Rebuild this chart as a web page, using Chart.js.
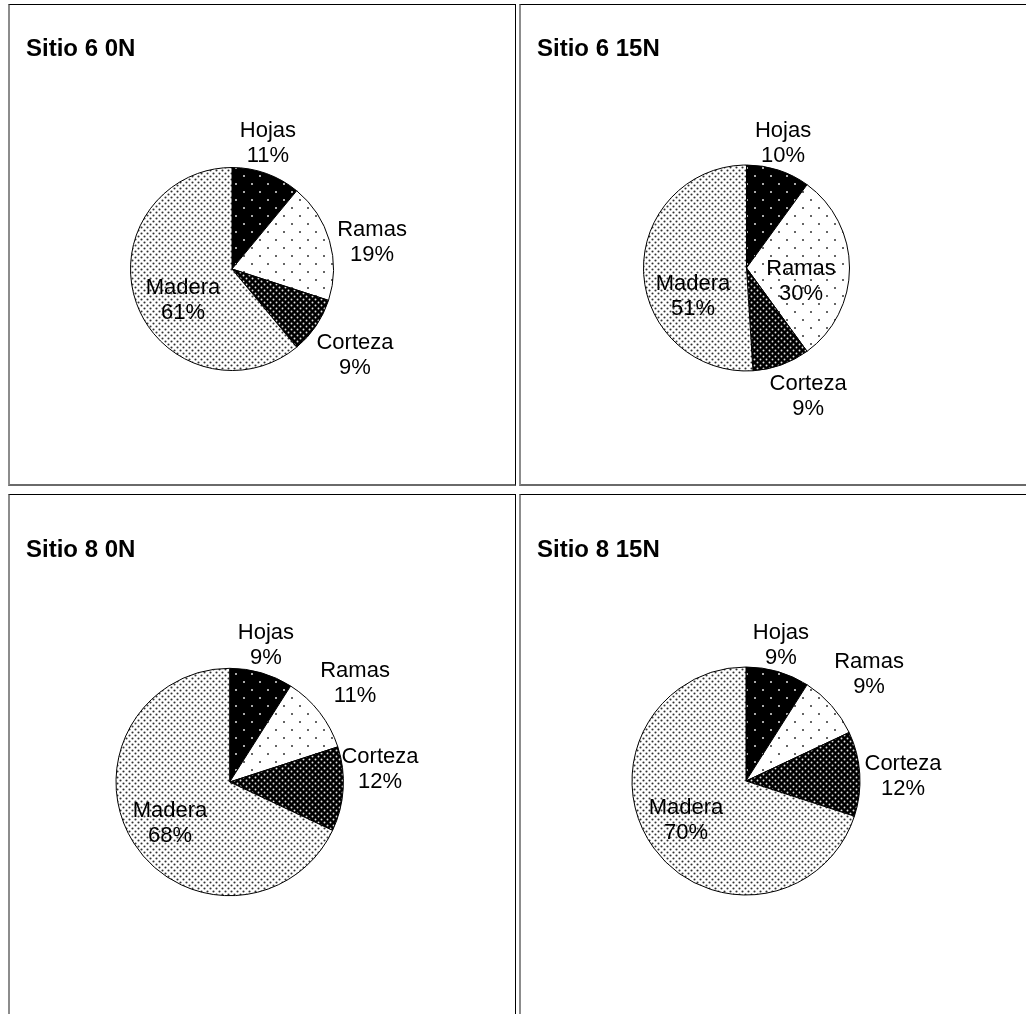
<!DOCTYPE html>
<html>
<head>
<meta charset="utf-8">
<title>Sitio 6 / Sitio 8</title>
<script src="https://cdn.jsdelivr.net/npm/chart.js@4/dist/chart.umd.min.js"></script>
<style>
  html, body { margin: 0; padding: 0; background: #fff; }
  body { width: 1026px; height: 1014px; overflow: hidden; position: relative;
         font-family: "Liberation Sans", Arial, sans-serif; }
  .panel { position: absolute; box-sizing: border-box;
           border-top: 1px solid #000; border-right: 1px solid #000;
           border-left: 2px solid #8c8c8c; border-bottom: 2px solid #6a6a6a; }
  canvas { position: absolute; }
</style>
</head>
<body>
<script>
// Biomass share by component (%)
const categories  = ['Hojas', 'Ramas', 'Corteza', 'Madera'];
const sitio6_0N   = [11, 19, 9, 61];
const sitio6_15N  = [10, 30, 9, 51];
const sitio8_0N   = [9, 11, 12, 68];
const sitio8_15N  = [9, 9, 12, 70];
const panelTitles = ['Sitio 6 0N', 'Sitio 6 15N', 'Sitio 8 0N', 'Sitio 8 15N'];
const panelSeries = [sitio6_0N, sitio6_15N, sitio8_0N, sitio8_15N];

// Page layout: frames, pie centre/radius, title baseline, label placement
// (label placement = [radius factor, angle shift in degrees] per slice)
const layout = [
  { box: { x: 8,   y: 4,   w: 508, h: 482 }, pie: { cx: 232,   cy: 269, r: 101.5 }, title: { x: 26,  y: 56 },
    labels: [[1.291, -3.9], [1.405, 5.3], [1.479, 0.8], [0.571, -12.5]] },
  { box: { x: 519, y: 4,   w: 515, h: 482 }, pie: { cx: 746.5, cy: 268, r: 103 },   title: { x: 537, y: 56 },
    labels: [[1.264, -1.7], [0.544, 13.4], [1.379, -5.9], [0.586, -25.8]] },
  { box: { x: 8,   y: 494, w: 508, h: 530 }, pie: { cx: 229.7, cy: 782, r: 113.7 }, title: { x: 26,  y: 557 },
    labels: [[1.246, -1.4], [1.405, -0.5], [1.326, -8.2], [0.637, -2.1]] },
  { box: { x: 519, y: 494, w: 515, h: 530 }, pie: { cx: 746,   cy: 781, r: 114 },   title: { x: 537, y: 557 },
    labels: [[1.232, -1.8], [1.430, 0.4], [1.378, 1.8], [0.628, 3.0]] }
];

// Dotted fills for the four components
function dotPattern(size, bg, dot, radius, pts) {
  const c = document.createElement('canvas');
  c.width = size; c.height = size;
  const g = c.getContext('2d');
  g.fillStyle = bg; g.fillRect(0, 0, size, size);
  g.fillStyle = dot;
  pts.forEach(([x, y]) => { g.beginPath(); g.arc(x, y, radius, 0, Math.PI * 2); g.fill(); });
  return g.createPattern(c, 'repeat');
}
const fills = [
  dotPattern(16, '#000', '#e2e2e2', 1.0, [[4, 4], [12, 12]]),        // Hojas
  dotPattern(16, '#fff', '#333333', 1.0, [[4, 4], [12, 12]]),        // Ramas
  dotPattern(6,  '#000', '#e6e6e6', 0.95, [[1.5, 1.5], [4.5, 4.5]]), // Corteza
  dotPattern(6,  '#fff', '#303030', 1.05, [[1.5, 1.5], [4.5, 4.5]])  // Madera
];

const FONT = '"Liberation Sans", Arial, sans-serif';

// Title and two-line slice labels (name / percentage)
const pieText = {
  id: 'pieText',
  afterDraw(chart, args, opts) {
    const ctx = chart.ctx;
    ctx.save();
    ctx.fillStyle = '#000';
    ctx.font = 'bold 24px ' + FONT;
    ctx.textAlign = 'left';
    ctx.textBaseline = 'alphabetic';
    ctx.fillText(opts.title, opts.titleX, opts.titleY);

    ctx.font = '22px ' + FONT;
    ctx.textAlign = 'center';
    ctx.textBaseline = 'middle';
    const meta = chart.getDatasetMeta(0);
    const values = chart.data.datasets[0].data;
    meta.data.forEach((arc, i) => {
      const [f, shift] = opts.placement[i];
      const a = (arc.startAngle + arc.endAngle) / 2 + shift * Math.PI / 180;
      const d = arc.outerRadius * f;
      const x = arc.x + Math.cos(a) * d;
      const y = arc.y + Math.sin(a) * d;
      ctx.fillText(chart.data.labels[i], x, y - 12.5);
      ctx.fillText(values[i] + '%', x, y + 12.5);
    });
    ctx.restore();
  }
};

layout.forEach((L, k) => {
  const frame = document.createElement('div');
  frame.className = 'panel';
  Object.assign(frame.style, { left: L.box.x + 'px', top: L.box.y + 'px', width: L.box.w + 'px', height: L.box.h + 'px' });
  document.body.appendChild(frame);

  const cv = document.createElement('canvas');
  cv.width = L.box.w; cv.height = L.box.h;
  Object.assign(cv.style, { left: L.box.x + 'px', top: L.box.y + 'px', width: L.box.w + 'px', height: L.box.h + 'px' });
  document.body.appendChild(cv);

  // square chart area around the pie (side = 2r + border width)
  const half = L.pie.r + 0.5;
  const padding = {
    left: L.pie.cx - half - L.box.x,
    top: L.pie.cy - half - L.box.y,
    right: L.box.x + L.box.w - (L.pie.cx + half),
    bottom: L.box.y + L.box.h - (L.pie.cy + half)
  };

  new Chart(cv.getContext('2d'), {
    type: 'pie',
    data: {
      labels: categories,
      datasets: [{
        data: panelSeries[k],
        backgroundColor: fills,
        borderColor: '#000',
        borderWidth: 1,
        hoverOffset: 0
      }]
    },
    options: {
      responsive: false,
      animation: false,
      events: [],
      layout: { padding },
      plugins: {
        legend: { display: false },
        tooltip: { enabled: false },
        pieText: {
          title: panelTitles[k],
          titleX: L.title.x - L.box.x,
          titleY: L.title.y - L.box.y,
          placement: L.labels
        }
      }
    },
    plugins: [pieText]
  });
});
</script>
</body>
</html>
